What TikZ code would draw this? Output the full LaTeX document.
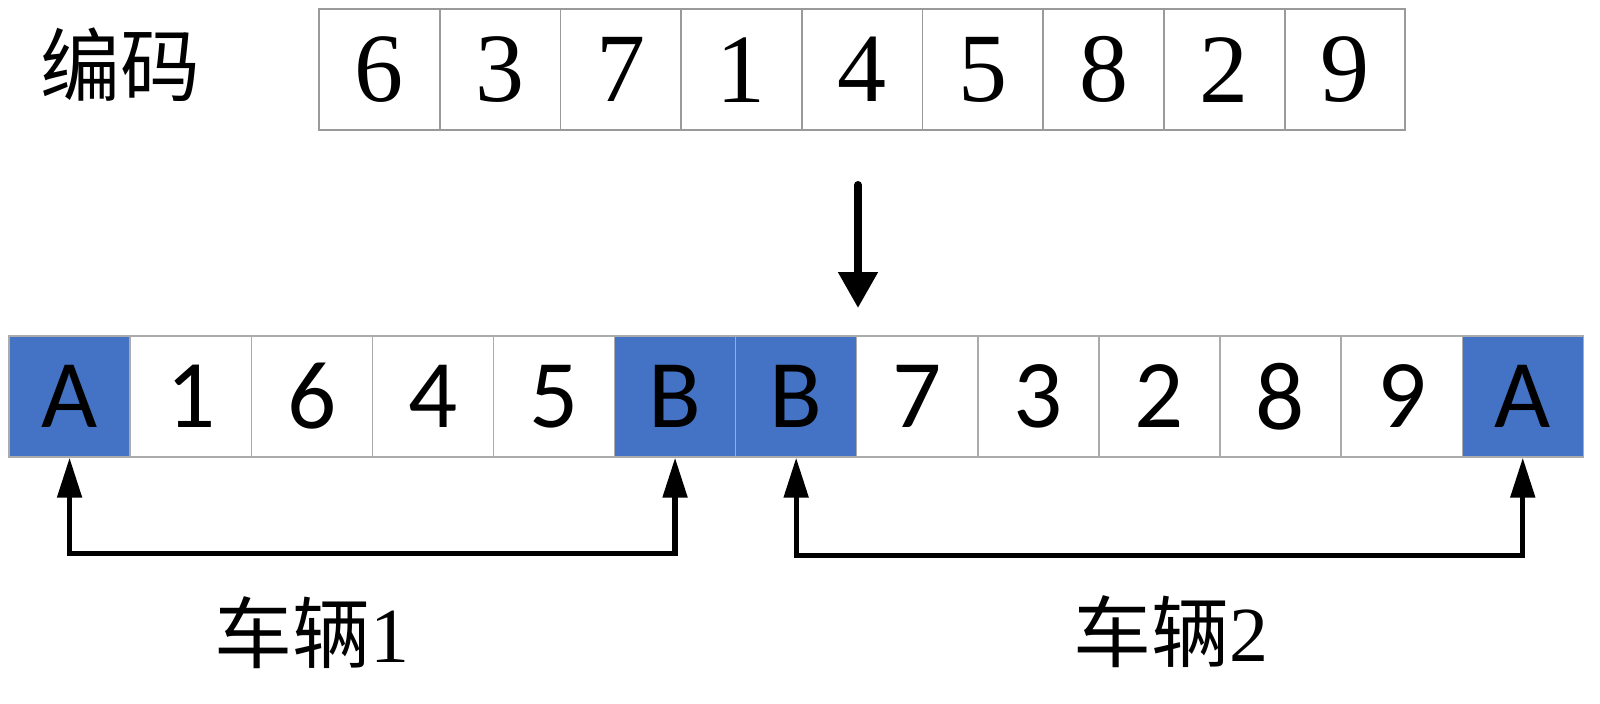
\documentclass[tikz,border=0pt]{standalone}
\usepackage{fontspec}
\setmainfont{Liberation Serif}
\newfontfamily\cjkfont{Noto Sans CJK SC}
\newfontfamily\carlitofont{Carlito}
\usetikzlibrary{arrows.meta}
\definecolor{cellblue}{HTML}{4472C4}
\definecolor{topgray}{HTML}{9A9A9A}
\definecolor{botgray}{HTML}{ABABAB}
\tikzset{
  topcell/.style={draw=topgray, line width=0.9pt, fill=white, inner sep=0pt,
    minimum width=60.35pt, minimum height=60.35pt,
    font=\fontsize{49}{50}\selectfont},
  botcell/.style={draw=botgray, line width=0.7pt, fill=white, inner sep=0pt,
    minimum width=60.55pt, minimum height=60.5pt,
    font=\carlitofont\fontsize{48.5}{50}\selectfont},
  bluecell/.style={botcell, fill=cellblue},
  bracket/.style={line width=2.6pt, line cap=butt, line join=miter,
    {Triangle[length=20pt,width=12pt]}-{Triangle[length=20pt,width=12pt]}},
  downarrow/.style={line width=4pt, line cap=round,
    -{Triangle[length=18pt,width=19pt]}},
  label/.style={inner sep=0pt, font=\fontsize{39}{40}\selectfont}
}
\begin{document}
\begin{tikzpicture}[x=0.5pt,y=-0.5pt]
\useasboundingbox (0,0) rectangle (1600,703);
% top row
\foreach \v [count=\i] in {6,3,7,1,4,5,8,2,9}{
  \node[topcell] (t\i) at ({319+(\i-0.5)*120.7},69.7) {\v};
}
\node[label, font=\cjkfont\fontsize{40}{41}\selectfont] (code) at (120,65) {编码};
% bottom row
\foreach \v/\s [count=\i] in {A/bluecell,1/botcell,6/botcell,4/botcell,5/botcell,B/bluecell,B/bluecell,7/botcell,3/botcell,2/botcell,8/botcell,9/botcell,A/bluecell}{
  \node[\s] (b\i) at ({9+(\i-0.5)*121.1},396.5) {\v};
}
% down arrow
\coordinate (dstart) at (858,185);
\coordinate (dend) at (858,308);
\draw[downarrow] (dstart) -- (dend);
% brackets
\draw[bracket] (b1.south) -- ++(0,96) -| (b6.south);
\draw[bracket] (b7.south) -- ++(0,98) -| (b13.south);
% labels
\node[label] (v1) at (312,633) {{\cjkfont 车辆}1};
\node[label] (v2) at (1171,632) {{\cjkfont 车辆}2};
\end{tikzpicture}
\end{document}
